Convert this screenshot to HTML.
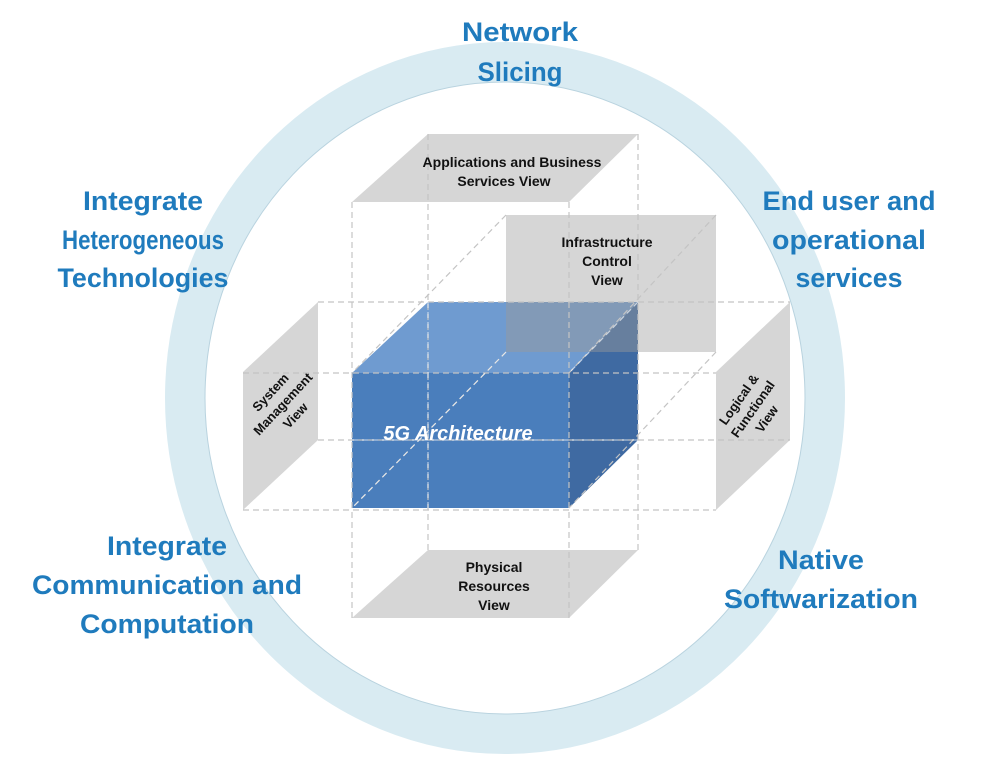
<!DOCTYPE html>
<html><head><meta charset="utf-8"><style>
html,body{margin:0;padding:0;background:#fff;}
svg{display:block;}
.l{font-family:"Liberation Sans",sans-serif;font-weight:bold;font-size:27px;fill:#1f7bbd;text-anchor:middle;}
.p{font-family:"Liberation Sans",sans-serif;font-weight:bold;font-size:14px;fill:#111;text-anchor:middle;}
</style></head><body>
<svg width="984" height="784" viewBox="0 0 984 784" xmlns="http://www.w3.org/2000/svg">
<ellipse cx="505" cy="398" rx="320" ry="336" fill="none" stroke="#d9ebf2" stroke-width="40"/>
<ellipse cx="505" cy="398" rx="300" ry="316" fill="none" stroke="#b9d3df" stroke-width="1"/>

<!-- panels -->
<polygon points="428,134 638,134 569,202 352,202" fill="#d6d6d6"/>
<rect x="506" y="215" width="210" height="137" fill="#d6d6d6"/>
<polygon points="243,372 318,302 318,440 243,510" fill="#d6d6d6"/>
<polygon points="716,372 790,302 790,440 716,510" fill="#d6d6d6"/>
<polygon points="428,550 638,550 569,618 352,618" fill="#d6d6d6"/>

<!-- cube -->
<polygon points="352,373 428,302 638,302 569,373" fill="#6f9bd0"/>
<polygon points="569,373 638,302 638,440 569,508" fill="#3f6aa2"/>
<rect x="352" y="373" width="217" height="135" fill="#4a7ebc"/>
<rect x="506" y="302" width="132" height="50" fill="#9a9a9a" opacity="0.45"/>

<!-- dashed lines -->
<g stroke="#c4c4c4" stroke-width="1.2" stroke-dasharray="6,4" fill="none">
<line x1="352" y1="202" x2="352" y2="618"/>
<line x1="428" y1="134" x2="428" y2="550"/>
<line x1="569" y1="202" x2="569" y2="618"/>
<line x1="638" y1="134" x2="638" y2="550"/>
<line x1="318" y1="302" x2="790" y2="302"/>
<line x1="243" y1="373" x2="716" y2="373"/>
<line x1="318" y1="440" x2="790" y2="440"/>
<line x1="243" y1="510" x2="716" y2="510"/>
<line x1="506" y1="215" x2="352" y2="373"/>
<line x1="716" y1="215" x2="569" y2="373"/>
<line x1="506" y1="352" x2="352" y2="508"/>
<line x1="716" y1="352" x2="569" y2="508"/>
</g>
<g stroke="#ffffff" stroke-opacity="0.6" stroke-width="1.2" stroke-dasharray="6,4" fill="none">
<line x1="428" y1="302" x2="428" y2="508"/>
<line x1="352" y1="440" x2="638" y2="440"/>
<line x1="506" y1="352" x2="352" y2="508"/>
<line x1="638" y1="302" x2="569" y2="373"/>
</g>

<!-- panel texts -->
<text class="p" x="512" y="167">Applications and Business</text>
<text class="p" x="504" y="186">Services View</text>
<text class="p" x="607" y="247">Infrastructure</text>
<text class="p" x="607" y="266">Control</text>
<text class="p" x="607" y="285">View</text>
<text class="p" x="494" y="572">Physical</text>
<text class="p" x="494" y="591">Resources</text>
<text class="p" x="494" y="610">View</text>
<g transform="translate(284,405) rotate(-47)">
<text class="p" x="0" y="-14" style="font-size:13px">System</text>
<text class="p" x="0" y="3" style="font-size:13px">Management</text>
<text class="p" x="0" y="20" style="font-size:13px">View</text>
</g>
<g transform="translate(754,410) rotate(-55)">
<text class="p" x="0" y="-14" style="font-size:13px">Logical &amp;</text>
<text class="p" x="0" y="3" style="font-size:13px">Functional</text>
<text class="p" x="0" y="20" style="font-size:13px">View</text>
</g>
<text x="458" y="440" text-anchor="middle" font-family="Liberation Sans,sans-serif" font-weight="bold" font-style="italic" font-size="20" fill="#fff">5G Architecture</text>

<!-- ring labels -->
<text class="l" x="520" y="41" textLength="116" lengthAdjust="spacingAndGlyphs">Network</text>
<text class="l" x="520" y="81" textLength="85" lengthAdjust="spacingAndGlyphs">Slicing</text>
<text class="l" x="143" y="210" textLength="120" lengthAdjust="spacingAndGlyphs">Integrate</text>
<text class="l" x="143" y="249" textLength="162" lengthAdjust="spacingAndGlyphs">Heterogeneous</text>
<text class="l" x="143" y="287" textLength="171" lengthAdjust="spacingAndGlyphs">Technologies</text>
<text class="l" x="849" y="210" textLength="173" lengthAdjust="spacingAndGlyphs">End user and</text>
<text class="l" x="849" y="249" textLength="154" lengthAdjust="spacingAndGlyphs">operational</text>
<text class="l" x="849" y="287" textLength="107" lengthAdjust="spacingAndGlyphs">services</text>
<text class="l" x="167" y="555" textLength="120" lengthAdjust="spacingAndGlyphs">Integrate</text>
<text class="l" x="167" y="594" textLength="270" lengthAdjust="spacingAndGlyphs">Communication and</text>
<text class="l" x="167" y="633" textLength="174" lengthAdjust="spacingAndGlyphs">Computation</text>
<text class="l" x="821" y="569" textLength="86" lengthAdjust="spacingAndGlyphs">Native</text>
<text class="l" x="821" y="608" textLength="194" lengthAdjust="spacingAndGlyphs">Softwarization</text>
</svg>
</body></html>
